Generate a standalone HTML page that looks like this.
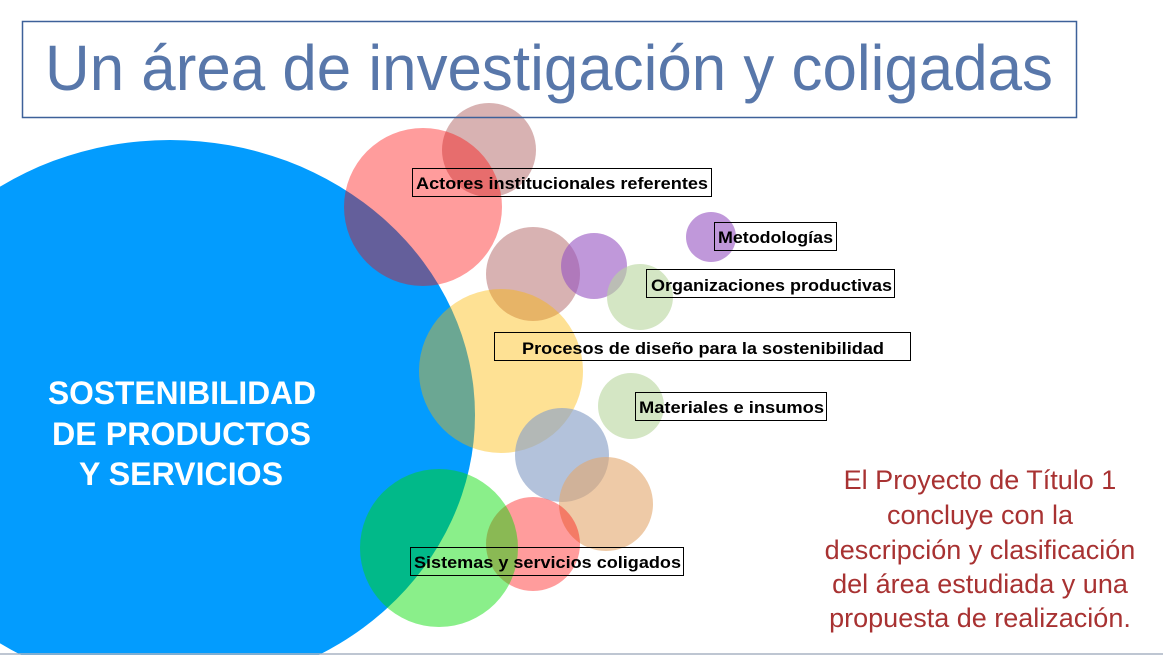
<!DOCTYPE html>
<html><head><meta charset="utf-8"><style>
html,body{margin:0;padding:0;background:#fff;width:1163px;height:655px;overflow:hidden;}
svg{display:block;}
text{font-family:"Liberation Sans",sans-serif;}
</style></head><body>
<svg width="1163" height="655" viewBox="0 0 1163 655" xmlns="http://www.w3.org/2000/svg">
<rect width="1163" height="655" fill="#fff"/>
<ellipse cx="170" cy="415" rx="305" ry="275" fill="#039cfe"/>
<g>
<circle cx="489" cy="150" r="47" fill="#9d3e3e" fill-opacity="0.4"/>
<circle cx="423" cy="207" r="79" fill="#ff0000" fill-opacity="0.39"/>
<circle cx="533" cy="274" r="47" fill="#9d3e3e" fill-opacity="0.4"/>
<circle cx="594" cy="266" r="33" fill="#9653c1" fill-opacity="0.6"/>
<circle cx="640" cy="297" r="33" fill="#b7d69c" fill-opacity="0.6"/>
<circle cx="711" cy="237" r="25" fill="#9653c1" fill-opacity="0.6"/>
<circle cx="501" cy="371" r="82" fill="#fdb700" fill-opacity="0.42"/>
<circle cx="631" cy="406" r="33" fill="#b7d69c" fill-opacity="0.6"/>
<circle cx="562" cy="455" r="47" fill="#8aa2c8" fill-opacity="0.65"/>
<circle cx="606" cy="504" r="47" fill="#e2a66c" fill-opacity="0.6"/>
<circle cx="533" cy="544" r="47" fill="#ff0000" fill-opacity="0.39"/>
<circle cx="439" cy="548" r="79" fill="#00dc00" fill-opacity="0.46"/>
</g>
<rect x="22.5" y="21.5" width="1054" height="96" fill="none" stroke="#3d6199" stroke-width="1.5"/>
<text x="45" y="90" font-size="64" fill="#5877aa" textLength="1008" lengthAdjust="spacingAndGlyphs">Un área de investigación y coligadas</text>
<g font-size="17" font-weight="bold" fill="#000">
<rect x="412.5" y="168.5" width="299" height="28" fill="none" stroke="#000"/>
<text x="416" y="189" textLength="292" lengthAdjust="spacingAndGlyphs">Actores institucionales referentes</text>
<rect x="714.5" y="222.5" width="122" height="28" fill="none" stroke="#000"/>
<text x="718" y="243" textLength="115" lengthAdjust="spacingAndGlyphs">Metodologías</text>
<rect x="646.5" y="269.5" width="248" height="28" fill="none" stroke="#000"/>
<text x="651" y="291" textLength="241" lengthAdjust="spacingAndGlyphs">Organizaciones productivas</text>
<rect x="494.5" y="332.5" width="416" height="28" fill="none" stroke="#000"/>
<text x="522" y="354" textLength="362" lengthAdjust="spacingAndGlyphs">Procesos de diseño para la sostenibilidad</text>
<rect x="635.5" y="392.5" width="191" height="28" fill="none" stroke="#000"/>
<text x="639" y="413" textLength="185" lengthAdjust="spacingAndGlyphs">Materiales e insumos</text>
<rect x="410.5" y="547.5" width="273" height="28" fill="none" stroke="#000"/>
<text x="414" y="568" textLength="267" lengthAdjust="spacingAndGlyphs">Sistemas y servicios coligados</text>
</g>
<g font-size="32" font-weight="bold" fill="#fff">
<text x="48" y="404" textLength="268" lengthAdjust="spacingAndGlyphs">SOSTENIBILIDAD</text>
<text x="52" y="445" textLength="259" lengthAdjust="spacingAndGlyphs">DE PRODUCTOS</text>
<text x="79" y="485" textLength="204" lengthAdjust="spacingAndGlyphs">Y SERVICIOS</text>
</g>
<g font-size="27" fill="#a83232" text-anchor="middle">
<text x="980" y="489">El Proyecto de Título 1</text>
<text x="980" y="524">concluye con la</text>
<text x="980" y="559">descripción y clasificación</text>
<text x="980" y="593">del área estudiada y una</text>
<text x="980" y="627">propuesta de realización.</text>
</g>
<line x1="0" y1="654" x2="1163" y2="654" stroke="#a8b4c4" stroke-width="1.5"/>
</svg>
</body></html>
